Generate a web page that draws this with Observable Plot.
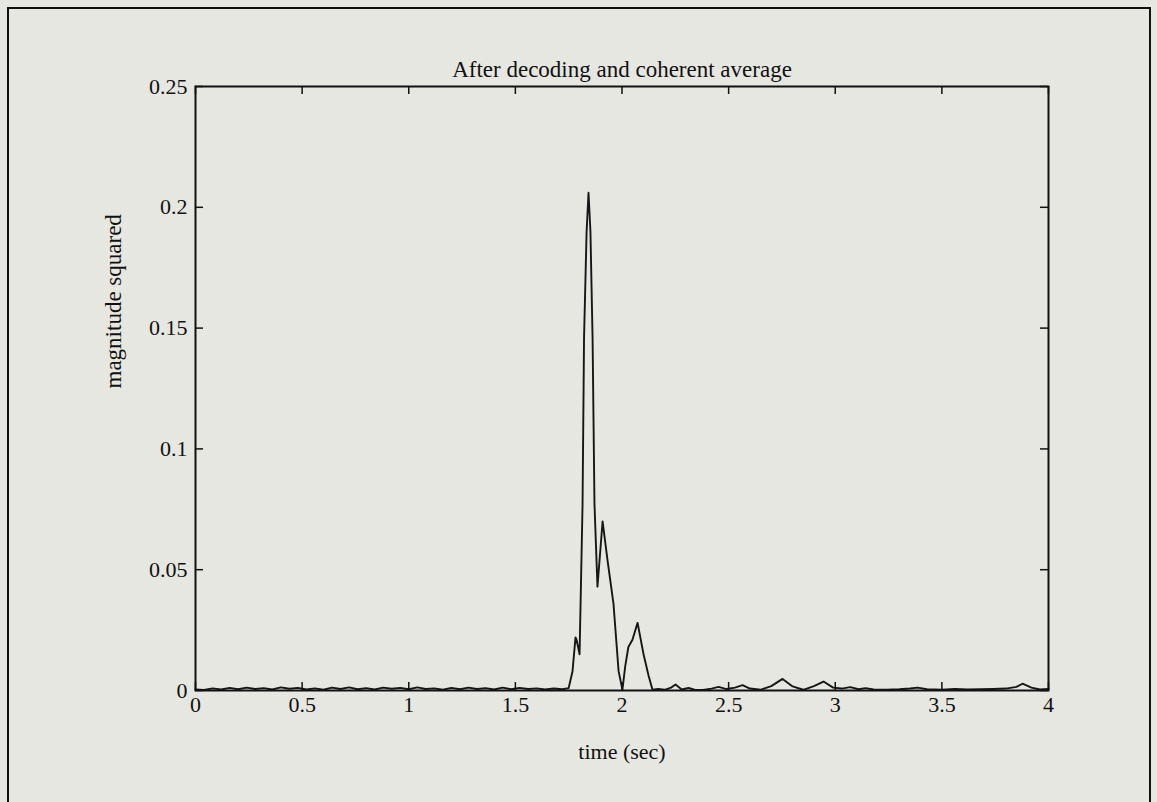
<!DOCTYPE html>
<html>
<head>
<meta charset="utf-8">
<script src="https://cdn.jsdelivr.net/npm/d3@7"></script>
<script src="https://cdn.jsdelivr.net/npm/@observablehq/plot@0.6"></script>
<style>
  html, body { margin: 0; padding: 0; background: #e7e7e1; }
  #page { position: relative; width: 1157px; height: 802px; overflow: hidden; background: #e7e7e1; }
  #frame { position: absolute; left: 7px; top: 7px; width: 1140px; height: 900px;
           border-left: 2px solid #111; border-top: 2px solid #111; border-right: 2px solid #111; }
  #chart { position: absolute; left: 0; top: 0; }
</style>
</head>
<body>
<div id="page"><div id="frame"></div><div id="chart"></div></div>
<script>
const titleText = "After decoding and coherent average";
const xLabelText = "time (sec)";
const yLabelText = "magnitude squared";
const xTicks = [0, 0.5, 1, 1.5, 2, 2.5, 3, 3.5, 4];
const yTicks = [0, 0.05, 0.1, 0.15, 0.2, 0.25];

const time = [
  0.00, 0.04, 0.08, 0.12, 0.16, 0.20, 0.24, 0.28, 0.32, 0.36, 0.40, 0.44, 0.48, 0.52, 0.56, 0.60,
  0.64, 0.68, 0.72, 0.76, 0.80, 0.84, 0.88, 0.92, 0.96, 1.00, 1.04, 1.08, 1.12, 1.16, 1.20, 1.24,
  1.28, 1.32, 1.36, 1.40, 1.44, 1.48, 1.52, 1.56, 1.60, 1.64, 1.68, 1.72,
  1.75, 1.768, 1.782, 1.787, 1.801, 1.815, 1.822, 1.834, 1.843, 1.852, 1.862, 1.871, 1.885, 1.909,
  1.932, 1.960, 1.984, 2.002, 2.015, 2.030, 2.049, 2.073, 2.101, 2.125, 2.143, 2.17, 2.20, 2.23,
  2.251, 2.28, 2.312, 2.34, 2.38, 2.42, 2.453, 2.49, 2.53, 2.565, 2.60, 2.65, 2.70, 2.753, 2.80,
  2.85, 2.90, 2.945, 2.99, 3.03, 3.07, 3.11, 3.142, 3.18, 3.24, 3.30, 3.35, 3.386, 3.43, 3.50,
  3.56, 3.62, 3.68, 3.74, 3.80, 3.85, 3.878, 3.92, 3.96, 4.00
];
const magnitude = [
  0.0004, 0.0002, 0.0009, 0.0004, 0.0011, 0.0005, 0.0012, 0.0006, 0.0010, 0.0004, 0.0013, 0.0007,
  0.0011, 0.0004, 0.0009, 0.0003, 0.0012, 0.0006, 0.0013, 0.0005, 0.0010, 0.0004, 0.0012, 0.0007,
  0.0011, 0.0005, 0.0013, 0.0006, 0.0009, 0.0003, 0.0011, 0.0005, 0.0012, 0.0006, 0.0010, 0.0004,
  0.0012, 0.0005, 0.0011, 0.0006, 0.0009, 0.0004, 0.0008, 0.0005,
  0.0010, 0.008, 0.022, 0.021, 0.015, 0.077, 0.146, 0.190, 0.206, 0.190, 0.146, 0.077, 0.043, 0.070,
  0.054, 0.036, 0.008, 0.0003, 0.010, 0.018, 0.021, 0.028, 0.015, 0.006, 0.0003, 0.0006, 0.0003, 0.0012,
  0.0025, 0.0004, 0.0011, 0.0003, 0.0002, 0.0008, 0.0015, 0.0006, 0.0012, 0.0022, 0.0008, 0.0003, 0.0018, 0.0048, 0.0017,
  0.0003, 0.0018, 0.0037, 0.0012, 0.0008, 0.0014, 0.0005, 0.0010, 0.0004, 0.0003, 0.0005, 0.0008, 0.0012, 0.0005, 0.0003,
  0.0006, 0.0004, 0.0005, 0.0006, 0.0008, 0.0015, 0.0028, 0.0012, 0.0004, 0.0006
];

const data = time.map((t, i) => ({t, m: magnitude[i]}));

const W = 1157, H = 802;
const mL = 195, mR = 109, mT = 86, mB = 112;
const plotW = W - mL - mR, plotH = H - mT - mB;
const tick = 8;
const font = "Liberation Serif, Times New Roman, serif";
const fmt = d => String(d);

const chart = Plot.plot({
  width: W, height: H,
  marginLeft: mL, marginRight: mR, marginTop: mT, marginBottom: mB,
  style: {fontFamily: font, background: "transparent", color: "#111"},
  x: {domain: [0, 4], axis: null},
  y: {domain: [0, 0.25], axis: null},
  marks: [
    Plot.line(data, {x: "t", y: "m", stroke: "#161616", strokeWidth: 1.9, strokeLinejoin: "round"}),
    // inward ticks on all four sides
    Plot.tickX(xTicks, {x: d => d, insetTop: plotH - tick, stroke: "#111", strokeWidth: 1.5}),
    Plot.tickX(xTicks, {x: d => d, insetBottom: plotH - tick, stroke: "#111", strokeWidth: 1.5}),
    Plot.tickY(yTicks, {y: d => d, insetRight: plotW - tick, stroke: "#111", strokeWidth: 1.5}),
    Plot.tickY(yTicks, {y: d => d, insetLeft: plotW - tick, stroke: "#111", strokeWidth: 1.5}),
    Plot.frame({stroke: "#111", strokeWidth: 2}),
    // tick labels
    Plot.text(xTicks, {x: d => d, text: fmt, frameAnchor: "bottom", dy: 21, fontSize: 22, fill: "#111"}),
    Plot.text(yTicks, {y: d => d, text: fmt, frameAnchor: "left", textAnchor: "end", dx: -8, fontSize: 22, fill: "#111"}),
    // titles
    Plot.text([titleText], {text: d => d, frameAnchor: "top", dy: -26, fontSize: 23, fill: "#111"}),
    Plot.text([xLabelText], {text: d => d, frameAnchor: "bottom", dy: 68, fontSize: 22, fill: "#111"}),
    Plot.text([yLabelText], {text: d => d, frameAnchor: "left", rotate: -90, dx: -82, fontSize: 23, fill: "#111"})
  ]
});
document.getElementById("chart").appendChild(chart);
</script>
</body>
</html>
